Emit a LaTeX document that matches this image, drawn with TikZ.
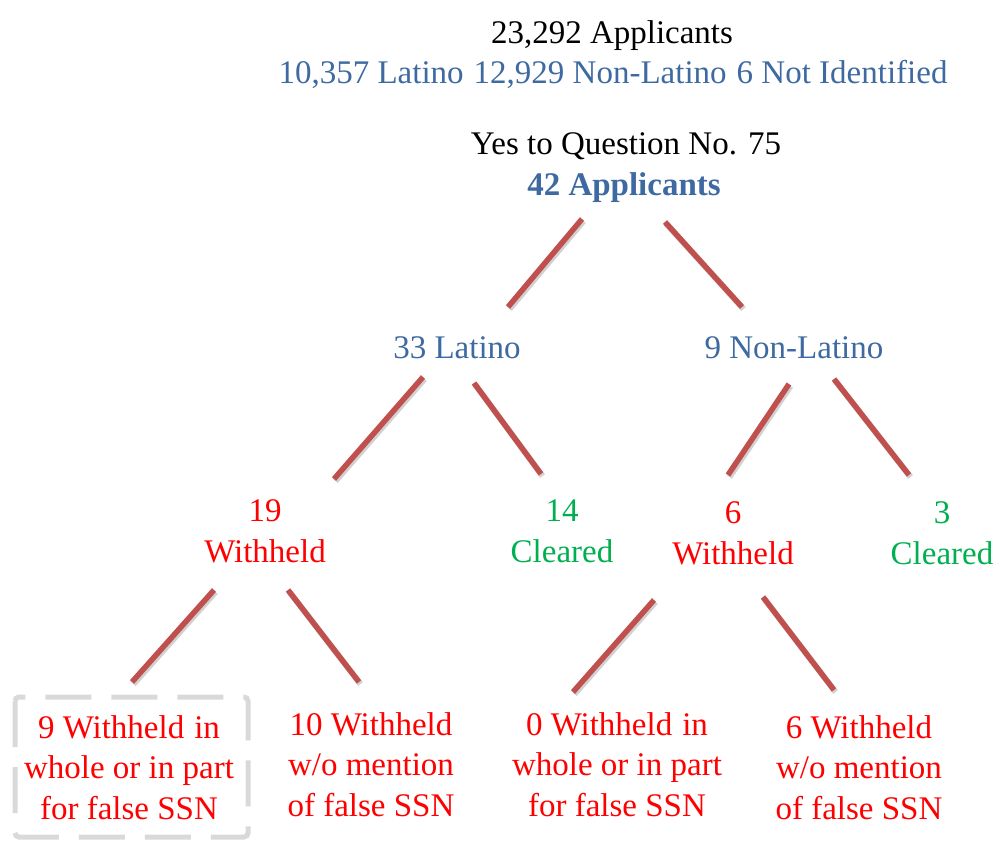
\documentclass[tikz,border=0pt]{standalone}
\usepackage{fontspec}
\setmainfont{Liberation Serif}
\definecolor{tblue}{HTML}{3E6AA1}
\definecolor{tred}{HTML}{FF0000}
\definecolor{tgreen}{HTML}{00B050}
\definecolor{lred}{HTML}{C0504D}
\definecolor{bgray}{HTML}{D9D9D9}
\begin{document}
\begin{tikzpicture}[x=1pt,y=-1pt,
  txt/.style={font=\fontsize{33}{40.5}\selectfont, inner sep=0pt, anchor=base, align=center},
  blue/.style={txt, text=tblue},
  black/.style={txt, text=black},
  redt/.style={txt, text=tred},
  greent/.style={txt, text=tgreen},
  conn/.style={draw=lred, line width=5.5pt,
    preaction={draw=black, opacity=0.18, line width=6pt, transform canvas={shift={(1.5pt,-2pt)}}}},
  dbox/.style={draw=bgray, line width=5pt, rounded corners=4pt, dash pattern=on 46pt off 20pt}
]
\useasboundingbox (0,0) rectangle (1005,846);

% texts (anchor base = baseline of the last line)
\node[black] (tot) at (612,43) {23,292 Applicants};
\node[blue] (split) at (613,83) {10,357 Latino\hspace{10pt}12,929 Non-Latino\hspace{10pt}6 Not Identified};
\node[black] (yes) at (626,154) {Yes to Question No. 75};
\node[blue, font=\fontsize{33}{40.5}\selectfont\bfseries] (n42) at (624,195) {42 Applicants};

\node[blue] (lat) at (457,358) {33 Latino};
\node[blue] (nlat) at (794,358) {9 Non-Latino};

\node[redt] (w19) at (265,562) {19\\Withheld};
\node[greent] (c14) at (562,562) {14\\Cleared};
\node[redt] (w6) at (733,564) {6\\Withheld};
\node[greent] (c3) at (942,564) {3\\Cleared};

\node[redt] (f9) at (129,819) {9 Withheld\hspace{10pt}in\\whole or in part\\for false SSN};
\node[redt] (m10) at (371,816) {10 Withheld\\w/o mention\\of false SSN};
\node[redt] (f0) at (617,816) {0 Withheld\hspace{10pt}in\\whole or in part\\for false SSN};
\node[redt] (m6) at (859,819) {6 Withheld\\w/o mention\\of false SSN};

% dashed box around f9
\draw[dbox] (15,697) rectangle (248,837);

% connector end points
\coordinate (c1a) at (582,219); \coordinate (c1b) at (508,307);
\coordinate (c2a) at (665,222); \coordinate (c2b) at (742,307);
\coordinate (c3a) at (423,377); \coordinate (c3b) at (334,479);
\coordinate (c4a) at (474,383); \coordinate (c4b) at (541,474);
\coordinate (c5a) at (789,384); \coordinate (c5b) at (728,475);
\coordinate (c6a) at (834,379); \coordinate (c6b) at (909,475);
\coordinate (c7a) at (214,590); \coordinate (c7b) at (132,682);
\coordinate (c8a) at (288,590); \coordinate (c8b) at (359,682);
\coordinate (c9a) at (654,600); \coordinate (c9b) at (573,692);
\coordinate (c10a) at (763,597); \coordinate (c10b) at (834,690);

\draw[conn] (c1a) -- (c1b);
\draw[conn] (c2a) -- (c2b);
\draw[conn] (c3a) -- (c3b);
\draw[conn] (c4a) -- (c4b);
\draw[conn] (c5a) -- (c5b);
\draw[conn] (c6a) -- (c6b);
\draw[conn] (c7a) -- (c7b);
\draw[conn] (c8a) -- (c8b);
\draw[conn] (c9a) -- (c9b);
\draw[conn] (c10a) -- (c10b);
\end{tikzpicture}
\end{document}
